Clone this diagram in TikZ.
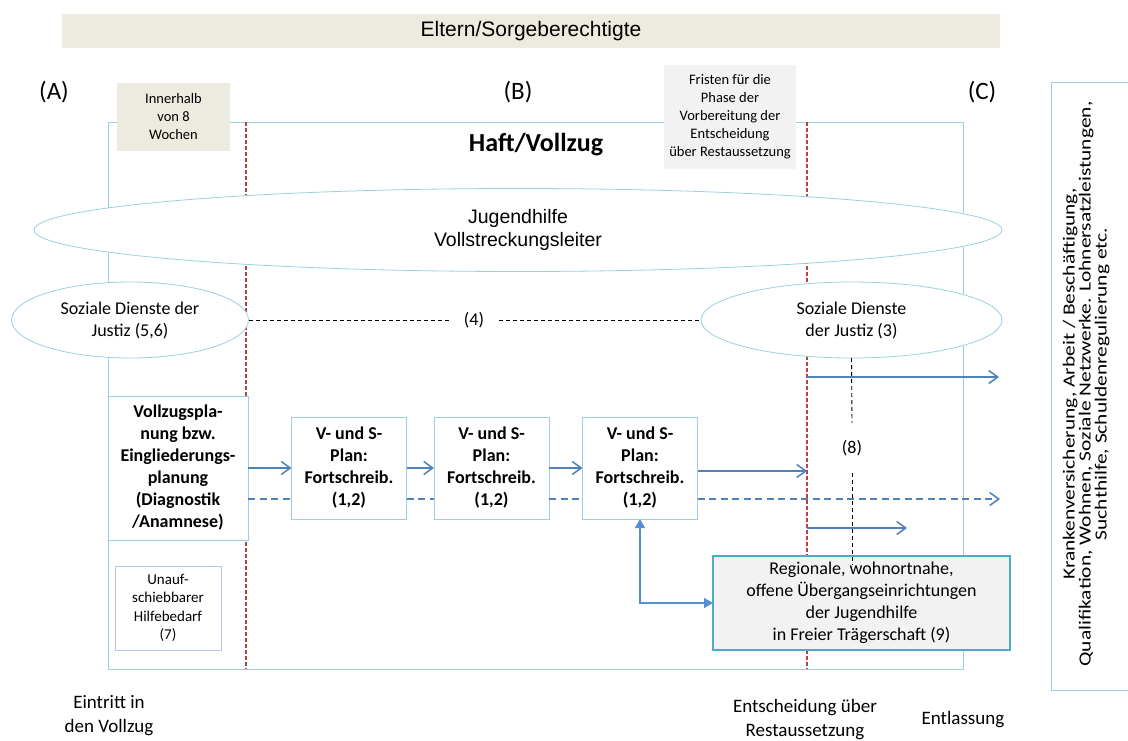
\documentclass[tikz,border=0pt]{standalone}
\usepackage{fontspec}
\setmainfont{Carlito}
\newfontfamily\arialfont{Liberation Sans}
\usetikzlibrary{arrows.meta,shapes.geometric,calc}
\definecolor{frameblue}{RGB}{155,208,222}
\definecolor{beige}{RGB}{237,235,224}
\definecolor{lgray}{RGB}{242,242,242}
\definecolor{reddash}{RGB}{178,70,70}
\definecolor{arrowblue}{RGB}{79,129,189}
\definecolor{fillblue}{RGB}{85,142,213}
\definecolor{tealb}{RGB}{75,172,198}
\definecolor{boxblue}{RGB}{180,199,231}
\begin{document}
\begin{tikzpicture}[x=1pt,y=-1pt,
  every node/.style={inner sep=0pt,outer sep=0pt},
  framebox/.style={draw=frameblue,line width=0.8pt},
  ell/.style={ellipse,draw=frameblue,line width=0.8pt,fill=white},
  whitebox/.style={draw=frameblue,line width=0.8pt,fill=white,align=center},
  bigtxt/.style={font=\fontsize{18}{22}\selectfont,align=center},
  boldtxt/.style={font=\bfseries\fontsize{18}{22}\selectfont,align=center},
  smalltxt/.style={font=\fontsize{14.5}{18}\selectfont,align=center},
  labeltxt/.style={font=\fontsize{19}{24}\selectfont,align=center},
  letter/.style={font=\fontsize{25}{30}\selectfont},
  redline/.style={draw=reddash,line width=1.1pt,dash pattern=on 3.5pt off 2.5pt},
  blackdash/.style={draw=black,line width=0.9pt,dash pattern=on 4pt off 3pt},
  solidarrow/.style={draw=arrowblue,line width=1.5pt,-{Straight Barb[length=9pt,width=13pt]}},
  solidline/.style={draw=arrowblue,line width=1.5pt},
  dasharrow/.style={draw=arrowblue,line width=1.5pt,dash pattern=on 7pt off 4.5pt,-{Straight Barb[length=9pt,width=13pt]}},
  dashline/.style={draw=arrowblue,line width=1.5pt,dash pattern=on 7pt off 4.5pt},
  fillarrow/.style={draw=fillblue,line width=1.5pt,{Triangle[length=9pt,width=10pt]}-{Triangle[length=9pt,width=10pt]}}
]
\useasboundingbox (0,0) rectangle (1128,740);
\fill[white] (0,0) rectangle (1128,740);

% top bar
\node[fill=beige,minimum width=938pt,minimum height=34pt,font=\arialfont\fontsize{21}{24}\selectfont] (eltern) at (531,31) {Eltern/Sorgeberechtigte};

% letters
\node[letter] (la) at (54,92) {(A)};
\node[letter] (lb) at (518,92) {(B)};
\node[letter] (lc) at (982,92) {(C)};

% main frame
\node[framebox,minimum width=855pt,minimum height=547pt] (haft) at (535.5,395.5) {};
\node[font=\bfseries\fontsize{26}{30}\selectfont] (hafttxt) at (536,145) {Haft/Vollzug};

% red dashed lines
\draw[redline] (246,122) -- (246,669);
\draw[redline] (807,122) -- (807,669);

% top info boxes
\node[fill=beige,minimum width=113pt,minimum height=68pt,smalltxt] (innerhalb) at (173.5,117) {Innerhalb\\von 8\\Wochen};
\node[fill=lgray,minimum width=132pt,minimum height=104pt,smalltxt] (fristen) at (730,117) {Fristen f\"ur die\\Phase der\\Vorbereitung der\\Entscheidung\\\"uber Restaussetzung};

% big ellipse
\node[ell,minimum width=968pt,minimum height=83pt,font=\arialfont\fontsize{19.5}{23}\selectfont,align=center] (jug) at (518,230) {Jugendhilfe\\Vollstreckungsleiter};

% social services ellipses
\node[ell,minimum width=237pt,minimum height=76pt,bigtxt] (sdl) at (130,320) {Soziale Dienste der\\Justiz (5,6)};
\node[ell,minimum width=301pt,minimum height=76pt,bigtxt] (sdr) at (851.5,320) {Soziale Dienste\\der Justiz (3)};
\node[bigtxt,minimum width=50pt,minimum height=20pt] (l4) at (474,320) {(4)};
\draw[blackdash] (sdl.east) -- (l4.west);
\draw[blackdash] (l4.east) -- (sdr.west);

% planning boxes
\node[whitebox,minimum width=140pt,minimum height=144pt,boldtxt] (vz) at (178,468) {Vollzugspla-\\nung bzw.\\Eingliederungs-\\planung\\(Diagnostik\\/Anamnese)};
\node[whitebox,minimum width=115pt,minimum height=102pt,boldtxt] (v1) at (349,468) {V- und S-\\Plan:\\Fortschreib.\\(1,2)};
\node[whitebox,minimum width=115pt,minimum height=102pt,boldtxt] (v2) at (491.5,468) {V- und S-\\Plan:\\Fortschreib.\\(1,2)};
\node[whitebox,minimum width=115pt,minimum height=102pt,boldtxt] (v3) at (640,468) {V- und S-\\Plan:\\Fortschreib.\\(1,2)};

% endpoints on the right
\coordinate (e1) at (807,471);
\coordinate (e2) at (1000,499);
\coordinate (s3) at (807,377);
\coordinate (e3) at (999,377);
\coordinate (s4) at (807,528);
\coordinate (e4) at (907,528);

% arrows
\draw[solidarrow] (vz.east) -- (v1.west);
\draw[solidarrow] (v1.east) -- (v2.west);
\draw[solidarrow] (v2.east) -- (v3.west);
\draw[solidarrow] ([yshift=-3pt]v3.east) -- (e1);
\draw[dashline] ([yshift=-31pt]vz.east) -- ([yshift=-31pt]v1.west);
\draw[dashline] ([yshift=-31pt]v1.east) -- ([yshift=-31pt]v2.west);
\draw[dashline] ([yshift=-31pt]v2.east) -- ([yshift=-31pt]v3.west);
\draw[dasharrow] ([yshift=-31pt]v3.east) -- (e2);
\draw[solidarrow] (s3) -- (e3);
\draw[solidarrow] (s4) -- (e4);

% (8)
\node[bigtxt,minimum height=50pt,minimum width=20pt] (l8) at (852,448) {(8)};
\coordinate (e8) at (852,565);
\draw[blackdash] (sdr.south) -- (l8.north);

% Regionale box
\node[draw=tealb,line width=1.3pt,fill=lgray,minimum width=297pt,minimum height=94pt,bigtxt] (reg) at (861.5,603) {Regionale, wohnortnahe,\\offene \"Ubergangseinrichtungen\\der Jugendhilfe\\in Freier Tr\"agerschaft (9)};
\draw[blackdash] (l8.south) -- (e8);
\draw[fillarrow] (v3.south) |- (reg.west);

% Unaufschiebbarer
\node[draw=boxblue,line width=0.8pt,fill=white,minimum width=106pt,minimum height=84pt,font=\fontsize{15}{18.5}\selectfont,align=center] (unauf) at (168,608) {Unauf-\\schiebbarer\\Hilfebedarf\\(7)};

% bottom labels
\node[labeltxt] (eintritt) at (109,716) {Eintritt in\\den Vollzug};
\node[labeltxt] (entsch) at (805,720) {Entscheidung \"uber\\Restaussetzung};
\node[labeltxt] (entl) at (963,720) {Entlassung};

% right box
\node[draw=frameblue,line width=0.8pt,fill=white,minimum width=77pt,minimum height=608pt] (rbox) at (1089.5,386) {};
\node[rotate=90,font=\fontsize{17}{18}\selectfont] (rtxt) at (1087,384) {\scalebox{1.26}[1]{\begin{tabular}{@{}c@{}}Krankenversicherung, Arbeit / Besch\"aftigung,\\[-2pt]Qualifikation, Wohnen, Soziale Netzwerke. Lohnersatzleistungen,\\[-2pt]Suchthilfe, Schuldenregulierung etc.\end{tabular}}};
\end{tikzpicture}
\end{document}
